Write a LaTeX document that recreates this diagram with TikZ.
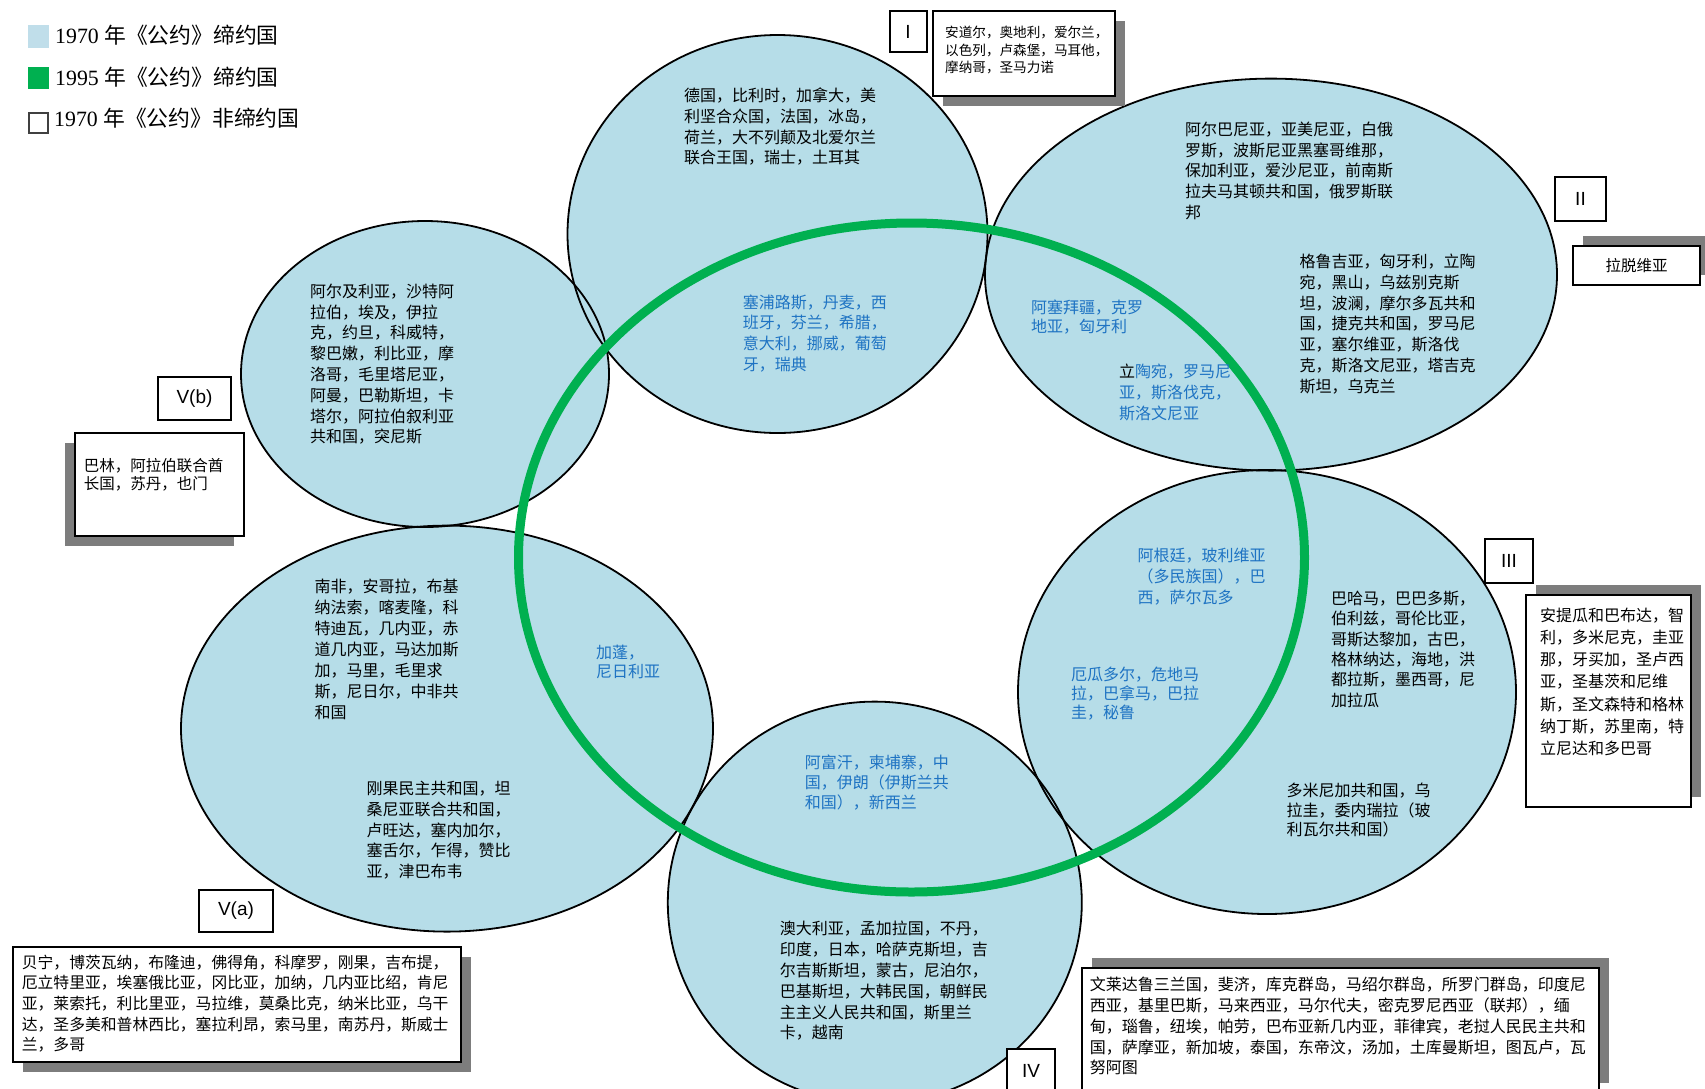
\documentclass[tikz,border=0pt]{standalone}
\usepackage{fontspec}
\setmainfont{Liberation Serif}
\newfontfamily\cjk{Noto Sans CJK SC}
\newfontfamily\lsans{Liberation Sans}
\usetikzlibrary{shadows}
\definecolor{ellfill}{RGB}{182,221,232}
\definecolor{legblue}{RGB}{192,222,234}
\definecolor{grn}{RGB}{0,176,80}
\definecolor{bluetext}{RGB}{30,115,195}
\definecolor{shadowgray}{RGB}{125,125,125}
\tikzset{
  ellline/.style={line width=1.8pt, draw=black},
  tx/.style={font=\cjk\fontsize{16}{#1}\selectfont, align=left, inner sep=0pt, anchor=west, text=black},
  tx/.default=20.7,
  btx/.style={tx=#1, text=bluetext},
  btx/.default=20.7,
  lab/.style={draw=black, line width=2pt, fill=white, font=\lsans\fontsize{19}{19}\selectfont, inner sep=0pt},
  tbox/.style={draw=black, line width=2pt, fill=white, inner sep=0pt},
  shDR/.style={drop shadow={shadow xshift=10pt, shadow yshift=-10pt, fill=shadowgray, opacity=1}},
  shUR/.style={drop shadow={shadow xshift=10pt, shadow yshift=10pt, fill=shadowgray, opacity=1}},
  shDL/.style={drop shadow={shadow xshift=-10pt, shadow yshift=-10pt, fill=shadowgray, opacity=1}},
  legtx/.style={font=\fontsize{21.8}{22}\selectfont, inner sep=0pt, anchor=west},
}
\begin{document}
\begin{tikzpicture}[x=1pt,y=-1pt]
\useasboundingbox[fill=white] (0,0) rectangle (1705,1088);

% ellipse fills
\foreach \cx/\cy/\rx/\ry in {777.5/234/210/199, 1271/274.6/286/196, 1267/692/249/222, 874.8/902.6/207/201, 447/728.6/266/203, 425/374/184/153}
  \fill[ellfill] (\cx,\cy) ellipse [x radius=\rx, y radius=\ry];
% ellipse outlines
\foreach \cx/\cy/\rx/\ry in {777.5/234/210/199, 1271/274.6/286/196, 1267/692/249/222, 874.8/902.6/207/201, 447/728.6/266/203, 425/374/184/153}
  \draw[ellline] (\cx,\cy) ellipse [x radius=\rx, y radius=\ry];
% green ring
\draw[grn, line width=9pt] (911.5,557.5) ellipse [x radius=393, y radius=334.5];

% legend
\fill[legblue] (28,25) rectangle (49,48);
\fill[grn] (28,67) rectangle (49,89);
\draw[black!75, line width=1.8pt, fill=white] (29,113) rectangle (48,133);
\node[legtx] (leg1) at (55,35) {1970 {\cjk 年《公约》缔约国}};
\node[legtx] (leg2) at (55,77) {1995 {\cjk 年《公约》缔约国}};
\node[legtx] (leg3) at (54,118.5) {1970 {\cjk 年《公约》非缔约国}};

% label boxes
\node[lab, minimum width=37, minimum height=41] (labI) at (908,31.5) {I};
\node[lab, minimum width=51, minimum height=44] (labII) at (1580.5,199) {II};
\node[lab, minimum width=48, minimum height=44] (labIII) at (1509,561) {III};
\node[lab, minimum width=48, minimum height=44] (labIV) at (1031,1071) {IV};
\node[lab, minimum width=73, minimum height=43] (labVb) at (194.5,398.5) {V(b)};
\node[lab, minimum width=74, minimum height=42.5] (labVa) at (236,910.75) {V(a)};

% text boxes
\node[tbox, shDR, minimum width=182, minimum height=85] (boxI) at (1024,53.5) {};
\node[tbox, shUR, minimum width=127, minimum height=39, font=\cjk\fontsize{15.5}{18}\selectfont] (boxLv) at (1636.5,265.5) {拉脱维亚};
\node[tbox, shUR, minimum width=165, minimum height=212] (boxIII) at (1608.5,701) {};
\node[tbox, shUR, minimum width=517, minimum height=125] (boxIV) at (1340.5,1030.5) {};
\node[tbox, shDL, minimum width=169, minimum height=103] (boxVb) at (159.5,484.5) {};
\node[tbox, shDR, minimum width=448, minimum height=115] (boxVa) at (237,1004.5) {};

% texts in boxes
\node[tx, font=\cjk\fontsize{13.6}{17.4}\selectfont] (tI) at (945,50) {安道尔，奥地利，爱尔兰，\\以色列，卢森堡，马耳他，\\摩纳哥，圣马力诺};
\node[tx, font=\cjk\fontsize{15.5}{18.5}\selectfont] (tVb) at (83.7,474.7) {巴林，阿拉伯联合酋\\长国，苏丹，也门};
\node[tx, font=\cjk\fontsize{15.8}{20.7}\selectfont] (tVa) at (21.7,1003.7) {贝宁，博茨瓦纳，布隆迪，佛得角，科摩罗，刚果，吉布提，\\厄立特里亚，埃塞俄比亚，冈比亚，加纳，几内亚比绍，肯尼\\亚，莱索托，利比里亚，马拉维，莫桑比克，纳米比亚，乌干\\达，圣多美和普林西比，塞拉利昂，索马里，南苏丹，斯威士\\兰，多哥};
\node[tx=22.1] (tIII) at (1539.8,681.8) {安提瓜和巴布达，智\\利，多米尼克，圭亚\\那，牙买加，圣卢西\\亚，圣基茨和尼维\\斯，圣文森特和格林\\纳丁斯，苏里南，特\\立尼达和多巴哥};
\node[tx=20.9] (tIV) at (1089.6,1026) {文莱达鲁三兰国，斐济，库克群岛，马绍尔群岛，所罗门群岛，印度尼\\西亚，基里巴斯，马来西亚，马尔代夫，密克罗尼西亚（联邦），缅\\甸，瑙鲁，纽埃，帕劳，巴布亚新几内亚，菲律宾，老挝人民民主共和\\国，萨摩亚，新加坡，泰国，东帝汶，汤加，土库曼斯坦，图瓦卢，瓦\\努阿图};

% texts in ellipses
\node[tx] (eI) at (684,126.7) {德国，比利时，加拿大，美\\利坚合众国，法国，冰岛，\\荷兰，大不列颠及北爱尔兰\\联合王国，瑞士，土耳其};
\node[btx] (gI) at (742.7,333.3) {塞浦路斯，丹麦，西\\班牙，芬兰，希腊，\\意大利，挪威，葡萄\\牙，瑞典};

\node[tx] (eIIa) at (1185,170.7) {阿尔巴尼亚，亚美尼亚，白俄\\罗斯，波斯尼亚黑塞哥维那，\\保加利亚，爱沙尼亚，前南斯\\拉夫马其顿共和国，俄罗斯联\\邦};
\node[tx] (eIIb) at (1299.4,324) {格鲁吉亚，匈牙利，立陶\\宛，黑山，乌兹别克斯\\坦，波澜，摩尔多瓦共和\\国，捷克共和国，罗马尼\\亚，塞尔维亚，斯洛伐\\克，斯洛文尼亚，塔吉克\\斯坦，乌克兰};
\node[btx=19] (gIIa) at (1030.9,317) {阿塞拜疆，克罗\\地亚，匈牙利};
\node[btx] (gIIb) at (1119,392.6) {{\color{black}立}陶宛，罗马尼\\亚，斯洛伐克，\\斯洛文尼亚};

\node[tx=20.8] (eVb) at (310,364.3) {阿尔及利亚，沙特阿\\拉伯，埃及，伊拉\\克，约旦，科威特，\\黎巴嫩，利比亚，摩\\洛哥，毛里塔尼亚，\\阿曼，巴勒斯坦，卡\\塔尔，阿拉伯叙利亚\\共和国，突尼斯};

\node[tx=21] (eVa1) at (314.3,649.2) {南非，安哥拉，布基\\纳法索，喀麦隆，科\\特迪瓦，几内亚，赤\\道几内亚，马达加斯\\加，马里，毛里求\\斯，尼日尔，中非共\\和国};
\node[tx=20.9] (eVa2) at (366.5,830.2) {刚果民主共和国，坦\\桑尼亚联合共和国，\\卢旺达，塞内加尔，\\塞舌尔，乍得，赞比\\亚，津巴布韦};
\node[btx=18.5] (gVa) at (595.9,661.7) {加蓬，\\尼日利亚};

\node[btx=21.2] (gIIIa) at (1137.4,576.9) {阿根廷，玻利维亚\\（多民族国），巴\\西，萨尔瓦多};
\node[btx=19] (gIIIb) at (1071,693.2) {厄瓜多尔，危地马\\拉，巴拿马，巴拉\\圭，秘鲁};
\node[tx=20.4] (eIIIa) at (1331,649.2) {巴哈马，巴巴多斯，\\伯利兹，哥伦比亚，\\哥斯达黎加，古巴，\\格林纳达，海地，洪\\都拉斯，墨西哥，尼\\加拉瓜};
\node[tx=19.6] (eIIIb) at (1286.4,810.1) {多米尼加共和国，乌\\拉圭，委内瑞拉（玻\\利瓦尔共和国）};

\node[btx=20.1] (gIV) at (804.7,782.4) {阿富汗，柬埔寨，中\\国，伊朗（伊斯兰共\\和国），新西兰};
\node[tx=20.9] (eIV) at (779.7,980.8) {澳大利亚，孟加拉国，不丹，\\印度，日本，哈萨克斯坦，吉\\尔吉斯斯坦，蒙古，尼泊尔，\\巴基斯坦，大韩民国，朝鲜民\\主主义人民共和国，斯里兰\\卡，越南};
\end{tikzpicture}
\end{document}
